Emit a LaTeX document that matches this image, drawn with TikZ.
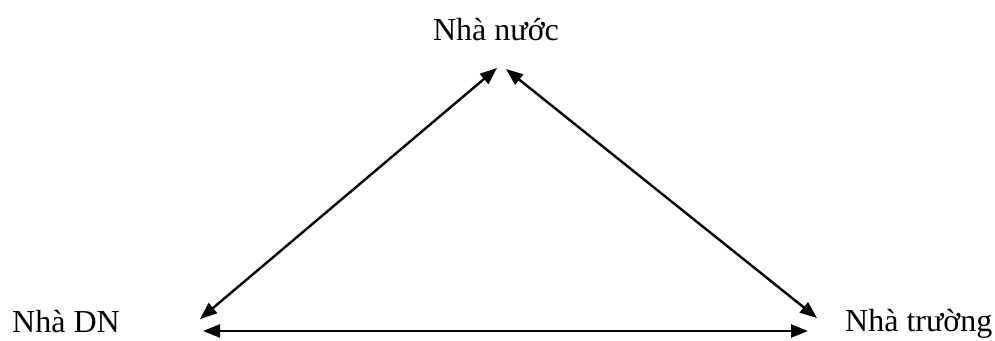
\documentclass[tikz,border=0pt]{standalone}
\usepackage{fontspec}
\setmainfont{Liberation Serif}
\usetikzlibrary{arrows.meta}
\begin{document}
\begin{tikzpicture}[x=1pt,y=-1pt,
  lbl/.style={inner sep=0pt,font=\fontsize{32}{38}\selectfont},
  link/.style={line width=2.4pt,{Triangle[length=17pt,width=13pt]}-{Triangle[length=17pt,width=13pt]}}]
\useasboundingbox (0,0) rectangle (995,340);
\node[lbl,anchor=base] (nn) at (496,40) {Nhà nước};
\node[lbl,anchor=base west] (dn) at (12,332) {Nhà DN};
\node[lbl,anchor=base west] (nt) at (845,331) {Nhà trường};
\coordinate (nnL) at (497,68);
\coordinate (nnR) at (506,69);
\coordinate (dnT) at (200,319);
\coordinate (dnB) at (203,331);
\coordinate (ntT) at (817,318);
\coordinate (ntB) at (808,331);
\draw[link] (dnT) -- (nnL);
\draw[link] (nnR) -- (ntT);
\draw[link] (dnB) -- (ntB);
\end{tikzpicture}
\end{document}
